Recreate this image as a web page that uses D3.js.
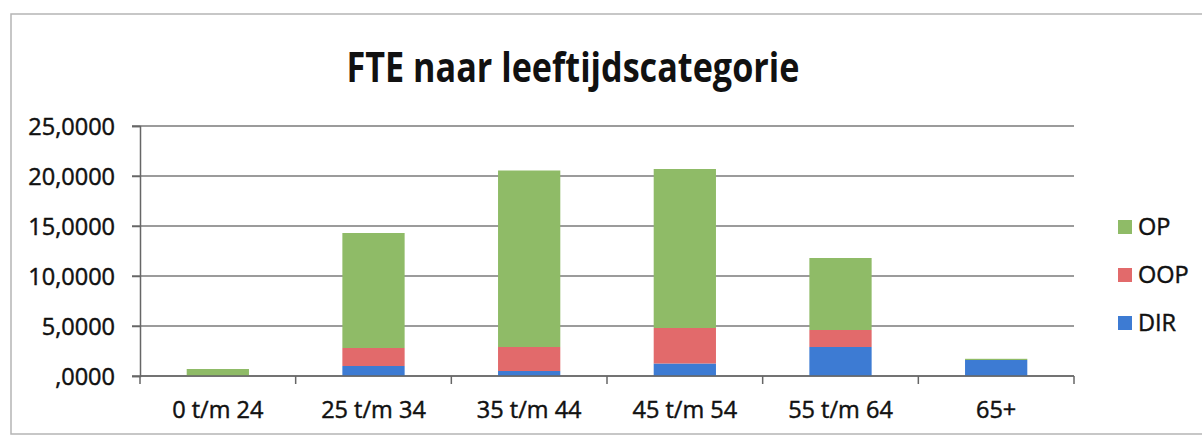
<!DOCTYPE html>
<html>
<head>
<meta charset="utf-8">
<script src="https://cdn.jsdelivr.net/npm/d3@7"></script>
<style>
  body { margin: 0; background: #fff; }
  svg text { font-family: "Open Sans", sans-serif; fill: #111; }
  svg .lbl { stroke: #111; stroke-width: 0.45; }
</style>
</head>
<body>
<div id="chart"></div>
<script>
// data
const categories = ["0 t/m 24", "25 t/m 34", "35 t/m 44", "45 t/m 54", "55 t/m 64", "65+"];
const dirValues = [0, 1.0, 0.5, 1.25, 2.9, 1.6];
const oopValues = [0, 1.8, 2.4, 3.55, 1.7, 0];
const opValues = [0.7, 11.5, 17.65, 15.9, 7.2, 0.12];
const seriesNames = ["DIR", "OOP", "OP"];
const seriesColors = ["#3d7bd3", "#e26a6b", "#8fbb67"];
const yTicks = [0, 5, 10, 15, 20, 25];

const width = 1202, height = 439;
const margin = { left: 140, right: 128, top: 126, bottom: 63 };

const svg = d3.select("#chart").append("svg")
  .attr("width", width)
  .attr("height", height);

// outer chart border (runs off the right edge in the scan)
svg.append("rect")
  .attr("x", 11).attr("y", 14)
  .attr("width", 1220).attr("height", 420)
  .attr("fill", "none")
  .attr("stroke", "#b5b5b5")
  .attr("stroke-width", 1.5);

const x = d3.scaleBand()
  .domain(categories)
  .range([margin.left, width - margin.right])
  .paddingInner(0.6)
  .paddingOuter(0.3);

const y = d3.scaleLinear()
  .domain([0, 25])
  .range([height - margin.bottom, margin.top]);

// rows for the stack
const rows = categories.map((c, i) => ({
  cat: c, DIR: dirValues[i], OOP: oopValues[i], OP: opValues[i]
}));
const stacked = d3.stack().keys(seriesNames)(rows);

const fmt = d3.format(".4f");
const tickFmt = d => d === 0 ? ",0000" : fmt(d).replace(".", ",");

// gridlines
svg.append("g")
  .selectAll("line")
  .data(yTicks)
  .join("line")
    .attr("x1", margin.left - 8)
    .attr("x2", width - margin.right)
    .attr("y1", d => y(d))
    .attr("y2", d => y(d))
    .attr("stroke", "#7a7a7a")
    .attr("stroke-width", 1.5);

// bars
svg.append("g")
  .selectAll("g")
  .data(stacked)
  .join("g")
    .attr("fill", (d, i) => seriesColors[i])
  .selectAll("rect")
  .data(d => d)
  .join("rect")
    .attr("x", d => x(d.data.cat))
    .attr("width", x.bandwidth())
    .attr("y", d => y(d[1]))
    .attr("height", d => y(d[0]) - y(d[1]));

// y axis
const yAxis = svg.append("g")
  .attr("transform", `translate(${margin.left},0)`)
  .call(d3.axisLeft(y).tickValues(yTicks).tickFormat(tickFmt).tickSize(8).tickPadding(17));
yAxis.selectAll("text").attr("class", "lbl").attr("font-size", 23.5).attr("dy", "0.36em");
yAxis.selectAll("line, path").attr("stroke", "#666").attr("stroke-width", 1.5);

// x axis with ticks at the category boundaries
const boundaries = d3.range(categories.length + 1).map(i => margin.left + i * (width - margin.left - margin.right) / categories.length);
const xAxis = svg.append("g")
  .attr("transform", `translate(0,${y(0)})`);
xAxis.append("line")
  .attr("x1", margin.left).attr("x2", width - margin.right)
  .attr("stroke", "#666").attr("stroke-width", 1.5);
xAxis.selectAll(".tick")
  .data(boundaries)
  .join("line")
    .attr("x1", d => d).attr("x2", d => d)
    .attr("y1", 0).attr("y2", 8)
    .attr("stroke", "#666").attr("stroke-width", 1.5);
xAxis.selectAll("text")
  .data(categories)
  .join("text")
    .attr("class", "lbl")
    .attr("x", d => x(d) + x.bandwidth() / 2)
    .attr("y", 42)
    .attr("text-anchor", "middle")
    .attr("font-size", 23.5)
    .text(d => d);

// title
svg.append("text")
  .attr("x", 573)
  .attr("y", 82)
  .attr("text-anchor", "middle")
  .attr("font-size", 42)
  .attr("font-weight", "bold")
  .attr("textLength", 453)
  .attr("lengthAdjust", "spacingAndGlyphs")
  .text("FTE naar leeftijdscategorie");

// legend, top to bottom OP, OOP, DIR
const legendItems = seriesNames.map((n, i) => ({ name: n, color: seriesColors[i] })).reverse();
const legend = svg.append("g")
  .selectAll("g")
  .data(legendItems)
  .join("g")
    .attr("transform", (d, i) => `translate(1118,${227 + i * 48})`);
legend.append("rect")
  .attr("x", 0).attr("y", -7)
  .attr("width", 14).attr("height", 14)
  .attr("fill", d => d.color);
legend.append("text")
  .attr("class", "lbl")
  .attr("x", 20)
  .attr("dy", "0.36em")
  .attr("font-size", 23.5)
  .text(d => d.name);
</script>
</body>
</html>
